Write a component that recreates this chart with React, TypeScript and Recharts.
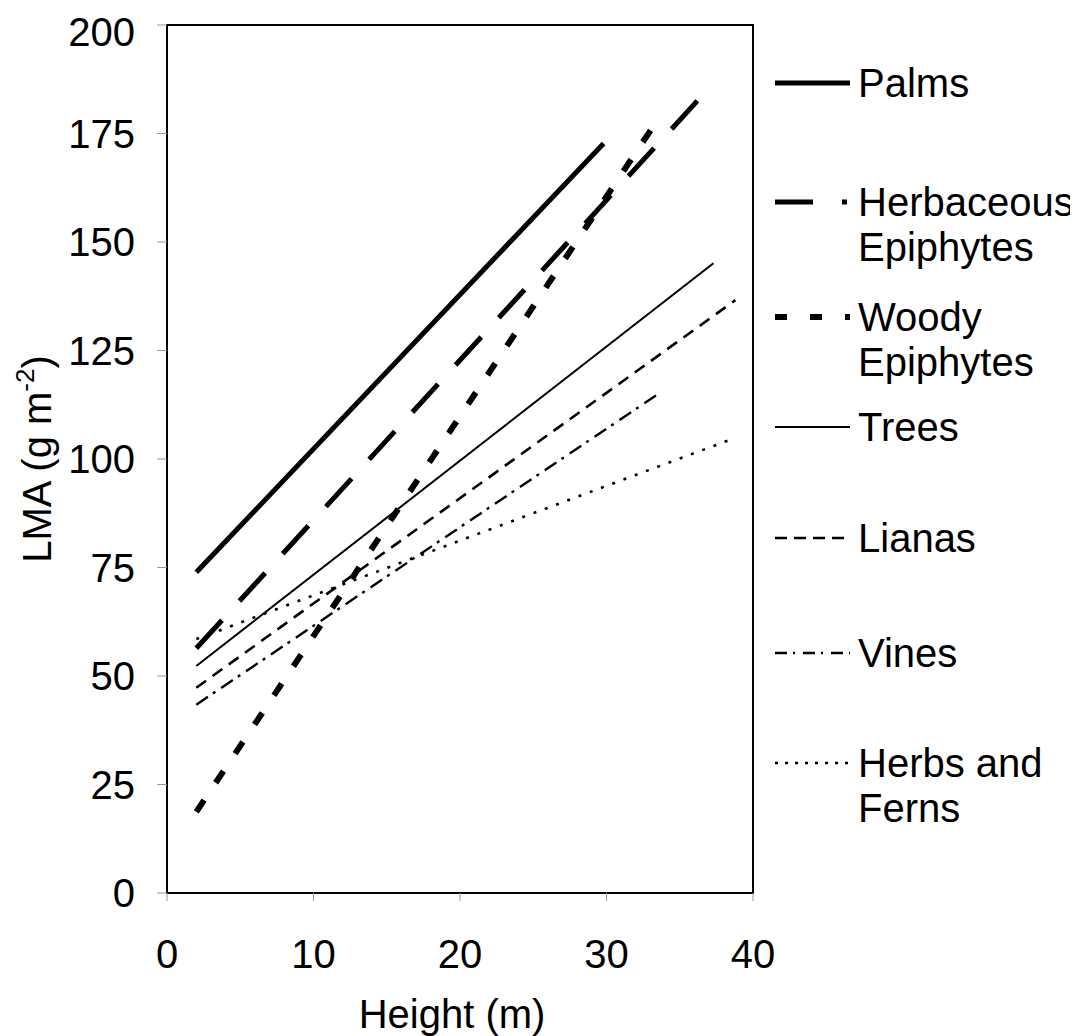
import React from "react";
import {
  LineChart,
  Line,
  XAxis,
  YAxis,
  ReferenceArea,
} from "recharts";

// Fitted LMA vs. plant height, one straight segment per growth form
const growthForms = [
  "Palms",
  "Herbaceous Epiphytes",
  "Woody Epiphytes",
  "Trees",
  "Lianas",
  "Vines",
  "Herbs and Ferns",
];
const legendLines = [
  ["Palms"],
  ["Herbaceous", "Epiphytes"],
  ["Woody", "Epiphytes"],
  ["Trees"],
  ["Lianas"],
  ["Vines"],
  ["Herbs and", "Ferns"],
];
const startHeight = [2, 2, 2, 2, 2, 2, 2];
const endHeight = [29.8, 37.2, 33.4, 37.3, 38.8, 33.4, 38.8];
const startLMA = [73.9, 56.4, 18.7, 52.3, 47.3, 43.4, 58.5];
const endLMA = [172.7, 186.2, 177.7, 145.1, 136.6, 114.7, 104.9];

const xTicks = [0, 10, 20, 30, 40];
const yTicks = [0, 25, 50, 75, 100, 125, 150, 175, 200];

// line look per growth form: [width, chart dash, legend dash]
const lineStyles: [number, string, string][] = [
  [5, "", ""],
  [5, "38 26", "38 29 5 200"],
  [6, "14 21", "12 23"],
  [2, "", ""],
  [2.6, "12 8", "12 7"],
  [2.4, "14 6 3 7", "12 6 2 8"],
  [2.6, "3 9", "3 7"],
];

// first-line centre of each legend entry, page px
const legendRows = [83, 202, 317, 427, 538, 653, 763];

const FONT = "'Liberation Sans', Arial, sans-serif";

const series = growthForms.map((name, i) => ({
  name,
  data: [
    { height: startHeight[i], lma: startLMA[i] },
    { height: endHeight[i], lma: endLMA[i] },
  ],
}));

const YLabel = ({ viewBox }: any) => {
  const cx = viewBox.x + 20;
  const cy = 451;
  return (
    <text
      x={cx}
      y={cy}
      transform={`rotate(-90 ${cx} ${cy})`}
      textAnchor="middle"
      dominantBaseline="central"
      fontSize={40}
      fontFamily={FONT}
      fill="#000"
    >
      LMA (g m
      <tspan fontSize={26} dy={-12}>
        -2
      </tspan>
      <tspan dy={12}>)</tspan>
    </text>
  );
};

const XLabel = ({ viewBox }: any) => (
  <text
    x={viewBox.x + viewBox.width / 2 - 8}
    y={1020}
    textAnchor="middle"
    fontSize={40}
    fontFamily={FONT}
    fill="#000"
  >
    Height (m)
  </text>
);

function LegendBox() {
  return (
    <svg
      width={320}
      height={860}
      style={{ position: "absolute", left: 751, top: -8, overflow: "visible" }}
    >
      {legendLines.map((lines, i) => {
        const y = legendRows[i];
        const [w, , dash] = lineStyles[i];
        return (
          <g key={growthForms[i]}>
            <line
              x1={16}
              x2={91}
              y1={y}
              y2={y}
              stroke="#000"
              strokeWidth={w}
              strokeDasharray={dash || undefined}
            />
            {lines.map((t, j) => (
              <text
                key={t}
                x={99}
                y={y + j * 45}
                dominantBaseline="central"
                fontSize={40}
                fontFamily={FONT}
                fill="#000"
              >
                {t}
              </text>
            ))}
          </g>
        );
      })}
    </svg>
  );
}

export default function App() {
  return (
    <div style={{ position: "relative", width: 1062, height: 1028, background: "#fff" }}>
      <LineChart
        width={1062}
        height={1028}
        margin={{ top: 17, right: 317, bottom: 83, left: 9 }}
        style={{ fontFamily: FONT }}
      >
        <XAxis
          dataKey="height"
          type="number"
          domain={[0, 40]}
          ticks={xTicks}
          allowDuplicatedCategory={false}
          height={60}
          axisLine={{ stroke: "#000", strokeWidth: 2 }}
          tickLine={{ stroke: "#999", strokeWidth: 1 }}
          tickSize={8}
          tickMargin={39}
          tick={{ fontSize: 40, fill: "#000", fontFamily: FONT }}
          label={<XLabel />}
        />
        <YAxis
          type="number"
          domain={[0, 200]}
          ticks={yTicks}
          width={150}
          axisLine={{ stroke: "#000", strokeWidth: 2 }}
          tickLine={{ stroke: "#999", strokeWidth: 1 }}
          tickSize={10}
          tickMargin={22}
          tick={{ fontSize: 40, fill: "#000", fontFamily: FONT }}
          label={<YLabel />}
        />
        <ReferenceArea
          x1={0}
          x2={40}
          y1={0}
          y2={200}
          fill="none"
          stroke="#000"
          strokeWidth={2}
        />
        {series.map((s, i) => (
          <Line
            key={s.name}
            data={s.data}
            dataKey="lma"
            name={s.name}
            type="linear"
            stroke="#000"
            strokeWidth={lineStyles[i][0]}
            strokeDasharray={lineStyles[i][1] || undefined}
            dot={false}
            activeDot={false}
            isAnimationActive={false}
          />
        ))}
      </LineChart>
      <LegendBox />
    </div>
  );
}
